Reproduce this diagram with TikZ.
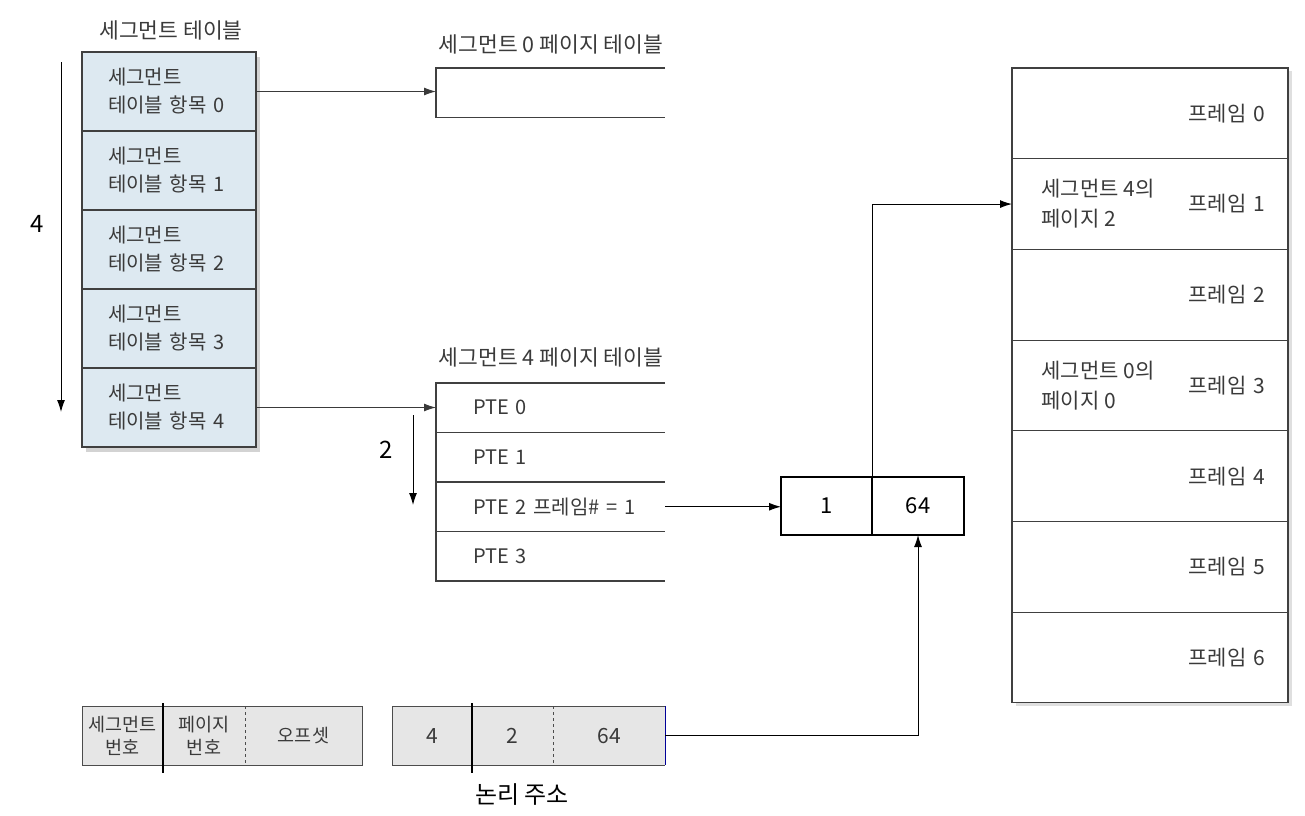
\documentclass[tikz,border=0pt]{standalone}
\usepackage{fontspec}
\setmainfont{Noto Sans CJK KR}
\usepackage{tikz}
\usetikzlibrary{positioning, arrows.meta, fit, backgrounds, shadows}
\definecolor{segblue}{HTML}{DDE9F1}
\definecolor{addrgray}{HTML}{E6E6E6}
\definecolor{inkgray}{HTML}{3A3A3A}

\begin{document}
\begin{tikzpicture}[
		x=1pt, y=-1pt,
		font=\fontsize{20}{28}\selectfont,
		tableline/.style={draw=black!75, line width=1.1pt},
		segrow/.style={rectangle, tableline, fill=segblue, minimum height=79pt, text width=122pt,
			inner xsep=26pt, inner ysep=0pt, outer sep=0pt, align=left, text=inkgray},
		pagerow/.style={rectangle, minimum height=49.5pt, text width=155pt, inner xsep=37pt,
			inner ysep=0pt, outer sep=0pt, align=left, text=inkgray},
		framerow/.style={rectangle, tableline, fill=white, minimum height=90.7pt, text width=230pt,
			inner xsep=23pt, inner ysep=0pt, outer sep=0pt, align=right, text=inkgray,
			font=\fontsize{21}{28}\selectfont},
		addrcell/.style={rectangle, fill=addrgray, minimum height=59pt, inner sep=0pt, outer sep=0pt,
			text=inkgray, align=center},
		xlatecell/.style={rectangle, draw, line width=2pt, minimum height=58pt, inner sep=0pt,
			outer sep=0pt, font=\fontsize{22}{26}\selectfont},
		title/.style={text=inkgray, font=\fontsize{21.5}{26}\selectfont},
		note/.style={anchor=west, align=left, text=inkgray, font=\fontsize{21}{30}\selectfont},
		tag/.style={font=\fontsize{24}{28}\selectfont},
		arrow/.style={-{Latex[length=12pt, width=8pt]}, line width=1pt}
	]
		\useasboundingbox (0,0) rectangle (1305,815);

		% segment table
		\node[title] (segtitle) at (171,30) {세그먼트 테이블};
		\node[segrow, anchor=north west] (s0) at (82,52) {세그먼트\\테이블 항목 0};
		\node[segrow, below=0pt of s0] (s1) {세그먼트\\테이블 항목 1};
		\node[segrow, below=0pt of s1] (s2) {세그먼트\\테이블 항목 2};
		\node[segrow, below=0pt of s2] (s3) {세그먼트\\테이블 항목 3};
		\node[segrow, below=0pt of s3] (s4) {세그먼트\\테이블 항목 4};
		\begin{scope}[on background layer]
			\node[fit=(s0)(s4), inner sep=0pt, fill=white,
				drop shadow={opacity=0.35, shadow xshift=4pt, shadow yshift=-5pt}] (segtable) {};
		\end{scope}

		\coordinate (segtop) at (61,62);
		\coordinate (segbot) at (61,412);
		\draw[arrow] (segtop) -- (segbot);
		\node[tag] (segidx) at (37,224) {4};

		% page table of segment 0
		\node[title] (pt0title) at (551,44) {세그먼트 0 페이지 테이블};
		\node[pagerow, anchor=north west] (z0) at (436,68) {};
		\draw[tableline] (z0.north east) -- (z0.north west) -- (z0.south west) -- (z0.south east);

		% page table of segment 4
		\node[title] (pt4title) at (551,357) {세그먼트 4 페이지 테이블};
		\node[pagerow, anchor=north west] (p0) at (436,383) {PTE 0};
		\node[pagerow, below=0pt of p0] (p1) {PTE 1};
		\node[pagerow, below=0pt of p1] (p2) {\mbox{PTE 2 프레임\# = 1}};
		\node[pagerow, below=0pt of p2] (p3) {PTE 3};
		\draw[tableline] (p0.north east) -- (p0.north west) -- (p3.south west) -- (p3.south east);
		\draw[tableline] (p0.south west) -- (p0.south east);
		\draw[tableline] (p1.south west) -- (p1.south east);
		\draw[tableline] (p2.south west) -- (p2.south east);

		\coordinate (pgtop) at (413,415);
		\coordinate (pgbot) at (413,505);
		\draw[arrow] (pgtop) -- (pgbot);
		\node[tag] (pgidx) at (386,450) {2};

		\draw[arrow, draw=inkgray] (s0.east) -- (s0.east -| z0.west);
		\draw[arrow, draw=inkgray] (s4.east) -- (s4.east -| p0.west);

		% frame + offset
		\node[xlatecell, minimum width=91pt, anchor=north west] (t1) at (781,477) {1};
		\node[xlatecell, minimum width=92pt, right=0pt of t1] (t2) {64};
		\draw[arrow] (p2.east) -- (p2.east -| t1.west);

		% physical memory
		\node[framerow, anchor=north west] (f0) at (1012,68) {프레임 0};
		\node[framerow, below=0pt of f0] (f1) {프레임 1};
		\node[framerow, below=0pt of f1] (f2) {프레임 2};
		\node[framerow, below=0pt of f2] (f3) {프레임 3};
		\node[framerow, below=0pt of f3] (f4) {프레임 4};
		\node[framerow, below=0pt of f4] (f5) {프레임 5};
		\node[framerow, below=0pt of f5] (f6) {프레임 6};
		\begin{scope}[on background layer]
			\node[fit=(f0)(f6), inner sep=0pt, fill=white,
				drop shadow={opacity=0.25, shadow xshift=4pt, shadow yshift=-3pt}] (memory) {};
		\end{scope}
		\node[note, right=26pt of f1.west] (f1note) {세그먼트 4의\\페이지 2};
		\node[note, right=26pt of f3.west] (f3note) {세그먼트 0의\\페이지 0};

		\draw[arrow] (t1.north east) |- (f1.west);

		% address format
		\begin{scope}[font=\fontsize{18.5}{23}\selectfont]
			\node[addrcell, minimum width=81pt, anchor=north west] (fmt0) at (82,706) {세그먼트\\번호};
			\node[addrcell, minimum width=82pt, right=0pt of fmt0] (fmt1) {페이지\\번호};
			\node[addrcell, minimum width=117pt, right=0pt of fmt1] (fmt2) {오프셋};
		\end{scope}
		\draw[draw=black!70, line width=1pt] (fmt0.north west) rectangle (fmt2.south east);
		\draw[line width=1.5pt] ([yshift=3pt]fmt0.north east) -- ([yshift=-8pt]fmt0.south east);
		\draw[dashed, draw=black!70, line width=1pt] (fmt1.north east) -- (fmt1.south east);

		% logical address
		\begin{scope}[font=\fontsize{21}{24}\selectfont]
			\node[addrcell, minimum width=80pt, anchor=north west] (a0) at (392,706) {4};
			\node[addrcell, minimum width=81pt, right=0pt of a0] (a1) {2};
			\node[addrcell, minimum width=112pt, right=0pt of a1] (a2) {64};
		\end{scope}
		\draw[draw=black!70, line width=1pt] (a2.north east) -- (a0.north west) -- (a0.south west) -- (a2.south east);
		\draw[draw=blue!60!black, line width=1pt] (a2.north east) -- (a2.south east);
		\draw[line width=1.5pt] ([yshift=3pt]a0.north east) -- ([yshift=-8pt]a0.south east);
		\draw[dashed, draw=black!70, line width=1pt] (a1.north east) -- (a1.south east);
		\node[font=\fontsize{24}{28}\selectfont] (logaddr) at (522,795) {논리 주소};

		\draw[arrow] (a2.east) -| (t2.south);
	\end{tikzpicture}
\end{document}
